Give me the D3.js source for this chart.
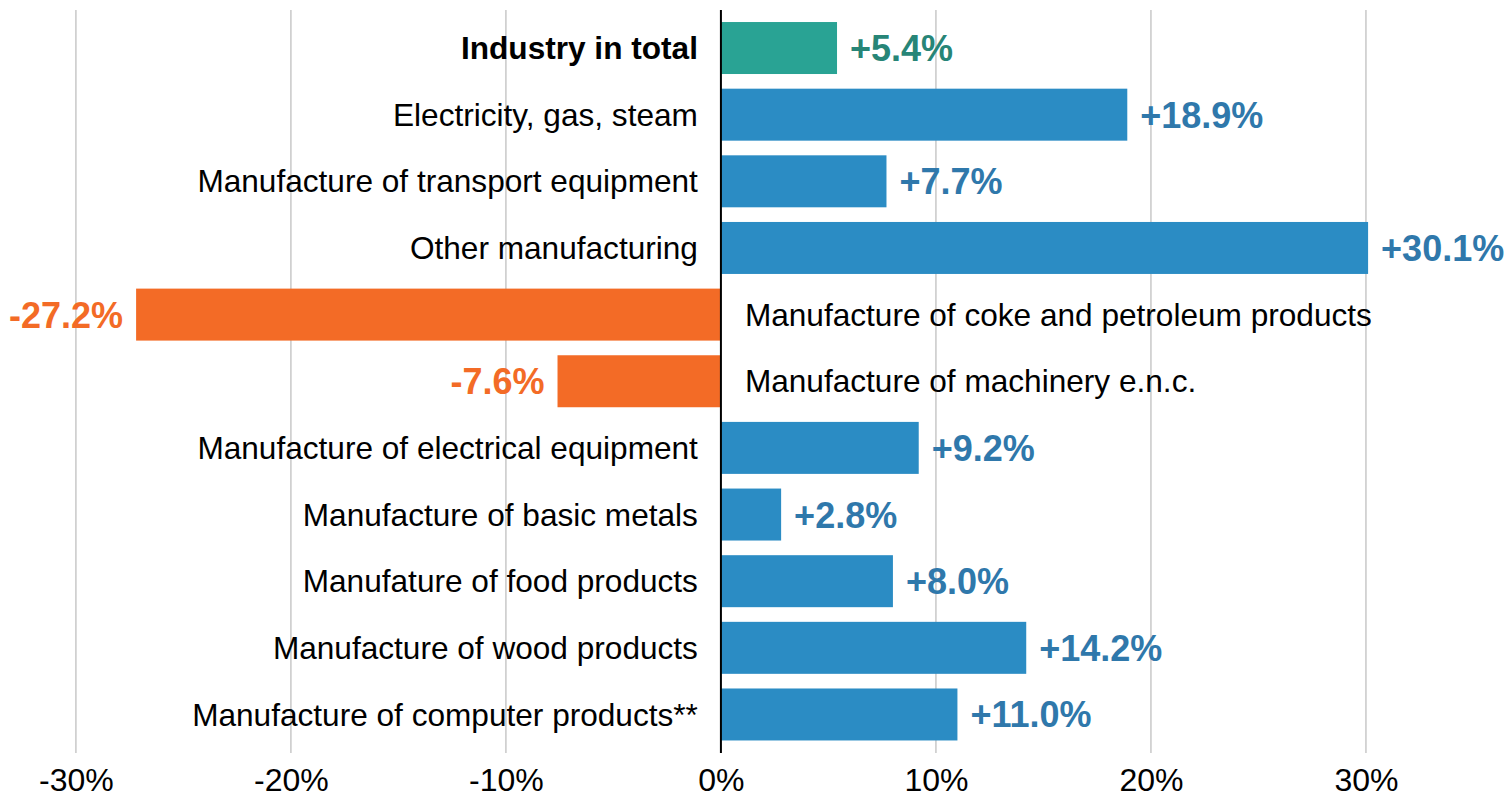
<!DOCTYPE html>
<html>
<head>
<meta charset="utf-8">
<script src="https://cdn.jsdelivr.net/npm/d3@7"></script>
<style>
  body { margin: 0; background: #fff; }
  text { font-family: "Liberation Sans", Arial, sans-serif; }
</style>
</head>
<body>
<div id="chart"></div>
<script>
// Categories, top to bottom
const categories = [
    "Industry in total",
    "Electricity, gas, steam",
    "Manufacture of transport equipment",
    "Other manufacturing",
    "Manufacture of coke and petroleum products",
    "Manufacture of machinery e.n.c.",
    "Manufacture of electrical equipment",
    "Manufacture of basic metals",
    "Manufature of food products",
    "Manufacture of wood products",
    "Manufacture of computer products**"
];
// Change in %
const values = [5.4, 18.9, 7.7, 30.1, -27.2, -7.6, 9.2, 2.8, 8.0, 14.2, 11.0];
const tickValues = [-30, -20, -10, 0, 10, 20, 30];

const width = 1510;
const height = 800;

const svg = d3.select("#chart")
    .append("svg")
    .attr("width", width)
    .attr("height", height);

const x = d3.scaleLinear()
    .domain([-33.53, 36.7])
    .range([0, width]);

const y = d3.scaleBand()
    .domain(categories)
    .range([14.7, 747.8])
    .paddingInner(0.22)
    .paddingOuter(0.11);

const data = categories.map((c, i) => ({ name: c, value: values[i], total: i === 0 }));

function barColor(d) {
    if (d.total) return "#29a394";
    return d.value < 0 ? "#f36b26" : "#2b8cc4";
}
function labelColor(d) {
    if (d.total) return "#278577";
    return d.value < 0 ? "#f36b26" : "#2f78ab";
}

// Gridlines
svg.append("g")
    .selectAll("line")
    .data(tickValues.filter(t => t !== 0))
    .enter().append("line")
    .attr("x1", d => x(d))
    .attr("x2", d => x(d))
    .attr("y1", 10)
    .attr("y2", 753)
    .attr("stroke", "#c8c8c8")
    .attr("stroke-width", 1.5);

// X-axis labels
const axis = svg.append("g")
    .attr("transform", `translate(0, 753)`)
    .call(d3.axisBottom(x).tickValues(tickValues).tickFormat(d => d + "%").tickSize(0).tickPadding(15));
axis.select(".domain").remove();
axis.selectAll("text")
    .attr("font-family", "Liberation Sans, Arial, sans-serif")
    .attr("font-size", 32)
    .attr("fill", "#000");

// Bars
svg.append("g")
    .selectAll("rect")
    .data(data)
    .enter().append("rect")
    .attr("x", d => x(Math.min(0, d.value)))
    .attr("y", d => y(d.name))
    .attr("width", d => Math.abs(x(d.value) - x(0)))
    .attr("height", y.bandwidth())
    .attr("fill", barColor);

// Zero line
svg.append("line")
    .attr("x1", x(0))
    .attr("x2", x(0))
    .attr("y1", 10)
    .attr("y2", 753)
    .attr("stroke", "#000")
    .attr("stroke-width", 2);

// Category labels
svg.append("g")
    .selectAll("text")
    .data(data)
    .enter().append("text")
    .attr("x", d => d.value < 0 ? x(0) + 24 : x(0) - 23)
    .attr("y", d => y(d.name) + y.bandwidth() / 2)
    .attr("dy", "0.35em")
    .attr("text-anchor", d => d.value < 0 ? "start" : "end")
    .attr("font-size", 31.6)
    .attr("font-weight", d => d.total ? "bold" : "normal")
    .attr("fill", "#000")
    .text(d => d.name);

// Value labels
svg.append("g")
    .selectAll("text")
    .data(data)
    .enter().append("text")
    .attr("x", d => d.value < 0 ? x(d.value) - 13 : x(d.value) + 13)
    .attr("y", d => y(d.name) + y.bandwidth() / 2)
    .attr("dy", "0.36em")
    .attr("text-anchor", d => d.value < 0 ? "end" : "start")
    .attr("font-size", 36)
    .attr("font-weight", "bold")
    .attr("fill", labelColor)
    .text(d => (d.value > 0 ? "+" : "") + d.value.toFixed(1) + "%");
</script>
</body>
</html>
